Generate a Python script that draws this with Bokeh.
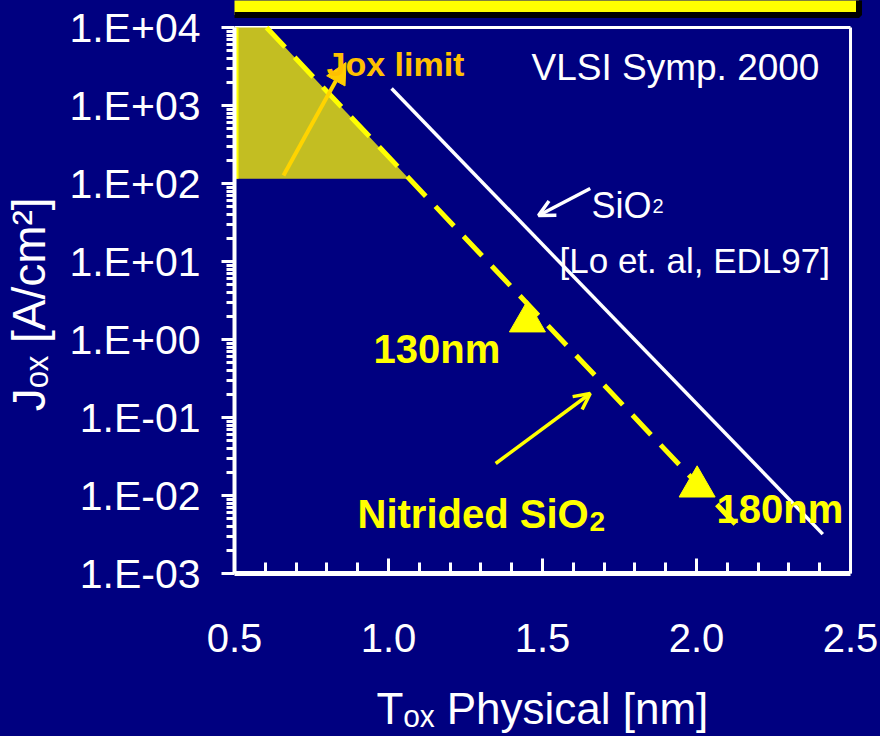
import math
from bokeh.plotting import figure
from bokeh.models import (FixedTicker, CustomJSTickFormatter, Label, Arrow,
                          NormalHead, OpenHead)
from bokeh.embed import file_html
from bokeh.resources import INLINE

# ---------------- data ----------------
x_ticks = [0.5, 1.0, 1.5, 2.0, 2.5]
x_tick_labels = ["0.5", "1.0", "1.5", "2.0", "2.5"]
x_minor_ticks = [0.6, 0.7, 0.8, 0.9, 1.1, 1.2, 1.3, 1.4, 1.6, 1.7, 1.8, 1.9,
                 2.1, 2.2, 2.3, 2.4]
y_ticks = [1e-3, 1e-2, 1e-1, 1e0, 1e1, 1e2, 1e3, 1e4]
y_tick_labels = ["1.E-03", "1.E-02", "1.E-01", "1.E+00", "1.E+01", "1.E+02",
                 "1.E+03", "1.E+04"]
y_minor_ticks = [k * 10.0 ** n for n in range(-3, 4) for k in range(2, 10)]

# SiO2 [Lo et al, EDL97] (solid white)
sio2_x = [1.01, 2.41]
sio2_y = [1.65e3, 3.2e-3]
# Nitrided SiO2 (dashed yellow)
nit_x = [0.604, 2.126]
nit_y = [1.0e4, 4.3e-3]
# technology nodes (triangles)
node_x = [1.451, 2.002]
node_y = [1.7, 1.3e-2]
node_names = ["130nm", "180nm"]
# Jox limit region
limit_x = [0.5, 0.604, 1.066, 0.5]
limit_y = [1.0e4, 1.0e4, 1.15e2, 1.15e2]
# annotation arrows (start x, start y, end x, end y)
arrow_jox = (0.659, 126.8, 0.862, 3557.0)
arrow_sio2 = (1.655, 86.3, 1.487, 38.9)
arrow_nit = (1.348, 2.57e-2, 1.655, 0.203)

NAVY = "#000080"
YEL = "#FFFF00"
GOLD = "#FFC000"
FONT = "Liberation Sans"

# page-pixel helpers (frame left/bottom at 233/573, 308.5 px per nm, 78 px per decade)
FL, FB, PXU, PXD = 233, 573, 308.5, 78.0
def dx(px):
    return 0.5 + (px - FL) / PXU
def dy(py):
    return 10 ** (4 - (py - 27) / PXD)

p = figure(width=880, height=736, x_range=(0.5, dx(862)), y_range=(1e-3, dy(0)),
           y_axis_type="log", output_backend="svg", toolbar_location=None,
           min_border_left=233, min_border_right=18, min_border_top=0,
           min_border_bottom=163, background_fill_color=NAVY,
           border_fill_color=NAVY, outline_line_color=None)
p.grid.visible = False

try:
    from bokeh.models import GlobalInlineStyleSheet
    p.stylesheets = [GlobalInlineStyleSheet(css="html, body { background-color: #000080; }")]
except Exception:
    pass

fmt_code = """
let best = -1, bd = 1e9;
for (let i = 0; i < tvals.length; i++) {
  const d = Math.abs(Math.log10(tvals[i]) - Math.log10(tick));
  if (d < bd) { bd = d; best = i; }
}
return (best >= 0 && bd < 1e-6) ? tlabels[best] : "";
"""
fmt_code_lin = """
let best = -1, bd = 1e9;
for (let i = 0; i < tvals.length; i++) {
  const d = Math.abs(tvals[i] - tick);
  if (d < bd) { bd = d; best = i; }
}
return (best >= 0 && bd < 1e-6) ? tlabels[best] : "";
"""

xa = p.xaxis[0]
xa.ticker = FixedTicker(ticks=x_ticks, minor_ticks=x_minor_ticks)
xa.formatter = CustomJSTickFormatter(args=dict(tvals=x_ticks, tlabels=x_tick_labels), code=fmt_code_lin)
xa.bounds = (x_ticks[0], x_ticks[-1])
xa.axis_line_color = "white"
xa.axis_line_width = 5
xa.major_tick_line_color = "white"
xa.major_tick_line_width = 3
xa.major_tick_in = 15
xa.major_tick_out = 0
xa.minor_tick_line_color = "white"
xa.minor_tick_line_width = 3
xa.minor_tick_in = 11
xa.minor_tick_out = 0
xa.major_label_text_font = FONT
xa.major_label_text_font_size = "40px"
xa.major_label_text_color = "white"
xa.major_label_standoff = 50
xa.axis_label = "T\u2092\u2093 Physical [nm]\u00a0"
xa.axis_label_text_font = FONT
xa.axis_label_text_font_size = "44px"
xa.axis_label_text_font_style = "normal"
xa.axis_label_text_color = "white"
xa.axis_label_standoff = 29

ya = p.yaxis[0]
ya.ticker = FixedTicker(ticks=y_ticks, minor_ticks=y_minor_ticks)
ya.formatter = CustomJSTickFormatter(args=dict(tvals=y_ticks, tlabels=y_tick_labels), code=fmt_code)
ya.bounds = (y_ticks[0], y_ticks[-1])
ya.axis_line_color = "white"
ya.axis_line_width = 4
ya.major_tick_line_color = "white"
ya.major_tick_line_width = 3
ya.major_tick_in = 0
ya.major_tick_out = 13
ya.minor_tick_line_color = "white"
ya.minor_tick_line_width = 3
ya.minor_tick_in = 0
ya.minor_tick_out = 8
ya.major_label_text_font = FONT
ya.major_label_text_font_size = "41px"
ya.major_label_text_color = "white"
ya.major_label_standoff = 21
ya.axis_label = "J\u2092\u2093 [A/cm\u00b2]\u00a0\u00a0\u202f"
ya.axis_label_text_font = FONT
ya.axis_label_text_font_size = "46px"
ya.axis_label_text_font_style = "normal"
ya.axis_label_text_color = "white"
ya.axis_label_standoff = 11

# ---------------- decorations ----------------
# slide title box, cut off at the top of the page
p.quad(left=dx(215.5), right=dx(858.5), top=dy(-30), bottom=dy(14.5),
       fill_color=YEL, line_color="black", line_width=6)
# top and right frame lines
p.line([x_ticks[0], x_ticks[-1]], [y_ticks[-1], y_ticks[-1]], line_color="white", line_width=3)
p.line([x_ticks[-1], x_ticks[-1]], [y_ticks[0], y_ticks[-1]], line_color="white", line_width=3)

# ---------------- glyphs ----------------
p.patch(limit_x, limit_y, fill_color="#C3BE22", line_color=None)
p.line([limit_x[0], limit_x[3]], [limit_y[0], limit_y[3]], line_color=YEL, line_width=8)
p.line(sio2_x, sio2_y, line_color="white", line_width=3.5)
p.line(nit_x, nit_y, line_color=YEL, line_width=5, line_dash="27 14")
p.scatter(node_x, node_y, marker="triangle", size=36, fill_color=YEL, line_color=YEL)

def arrow(coords, head, color, width):
    xs, ys, xe, ye = coords
    p.add_layout(Arrow(end=head, x_start=xs, y_start=ys, x_end=xe, y_end=ye,
                       line_color=color, line_width=width))

arrow(arrow_jox, NormalHead(size=21, fill_color="#FFCC00", line_color="#FFCC00"), "#FFD400", 4)
arrow(arrow_sio2, OpenHead(size=16, line_color="white", line_width=3.5), "white", 3.5)
arrow(arrow_nit, OpenHead(size=16, line_color=YEL, line_width=3.5), YEL, 3.5)

# ---------------- texts (page pixel positions -> frame-relative screen) ----
def lab(text, px, py, size, color="white", bold=False):
    p.add_layout(Label(x=px - FL, y=FB - py, x_units="screen", y_units="screen",
                       text=text, text_font=FONT, text_font_size=f"{size}px",
                       text_color=color, text_font_style="bold" if bold else "normal",
                       text_align="left", text_baseline="alphabetic"))

lab("Jox limit", 325, 63, 34, GOLD, bold=True)
lab("VLSI Symp. 2000", 530, 67, 37)
lab("SiO", 590, 205, 36)
lab("2", 651, 205, 20)
lab("[Lo et. al, EDL97]", 558, 260, 35)
lab(node_names[0], 372, 348, 40, YEL, bold=True)
lab(node_names[1], 715, 508, 40, YEL, bold=True)
lab("Nitrided SiO", 356, 513, 40, YEL, bold=True)
lab("2", 588, 521, 28, YEL, bold=True)

open("out.html", "w").write(file_html(p, INLINE))
